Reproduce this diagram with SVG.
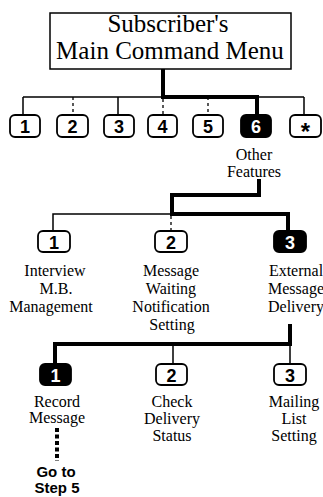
<svg xmlns="http://www.w3.org/2000/svg" width="323" height="497" viewBox="0 0 323 497">
<style>
.bg{fill:#fff}
.box{fill:#fff;stroke:#000;stroke-width:1.5}
.key{fill:#fff;stroke:#000;stroke-width:1.8}
.keyb{fill:#000;stroke:#000;stroke-width:1.8}
.num{font-family:"Liberation Sans",Arial,sans-serif;font-weight:bold;font-size:18px;text-anchor:middle;fill:#000}
.numw{font-family:"Liberation Sans",Arial,sans-serif;font-weight:bold;font-size:18px;text-anchor:middle;fill:#fff}
.title{font-family:"Liberation Serif","Times New Roman",serif;font-size:25px;text-anchor:middle;fill:#000}
.lbl{font-family:"Liberation Serif","Times New Roman",serif;font-size:16px;text-anchor:middle;fill:#000}
.go{font-family:"Liberation Sans",Arial,sans-serif;font-weight:bold;font-size:15px;text-anchor:middle;fill:#000}
.thin{stroke:#000;stroke-width:1.5;fill:none}
.dash{stroke:#000;stroke-width:1.3;fill:none;stroke-dasharray:3 3}
.thick{stroke:#000;stroke-width:4;fill:none;stroke-linejoin:miter;stroke-linecap:square}
.dots{stroke:#000;stroke-width:4;fill:none;stroke-dasharray:4 2.5}
</style>
<rect class="bg" x="0" y="0" width="323" height="497"/>
<g id="connectors">
  <path class="thin" d="M23 97 H163 M257 97 H304 M23 97 V115 M118 97 V115 M304 97 V115"/>
  <path class="dash" d="M73 97 V115 M163 99 V115 M208 97 V115"/>
  <path class="thick" d="M163 70 V97 H257 V114"/>
  <path class="thick" d="M259 181 V195 H172 V214 H288 V230"/>
  <path class="thin" d="M172 214 H53 V231"/>
  <path class="dash" d="M171 216 V231"/>
  <path class="thick" d="M290 326 V344 H55 V363"/>
  <path class="thin" d="M173 344 V364 M290 344 V364"/>
  <path class="dots" d="M57 428 V461"/>
</g>
<g id="main-menu">
  <rect class="box" x="50" y="13" width="241" height="56"/>
  <text class="title" x="168" y="32">Subscriber's</text>
  <text class="title" x="170" y="59">Main Command Menu</text>
</g>
<g id="key1">
  <rect class="key" x="10" y="115" width="30" height="22" rx="5"/>
  <text class="num" x="25" y="133">1</text>
</g>
<g id="key2">
  <rect class="key" x="57" y="115" width="31" height="22" rx="5"/>
  <text class="num" x="72.5" y="133">2</text>
</g>
<g id="key3">
  <rect class="key" x="104" y="115" width="30" height="22" rx="5"/>
  <text class="num" x="119" y="133">3</text>
</g>
<g id="key4">
  <rect class="key" x="148" y="115" width="29" height="22" rx="5"/>
  <text class="num" x="162.5" y="133">4</text>
</g>
<g id="key5">
  <rect class="key" x="193" y="115" width="30" height="22" rx="5"/>
  <text class="num" x="208" y="133">5</text>
</g>
<g id="key6">
  <rect class="keyb" x="241" y="115" width="30" height="22" rx="5"/>
  <text class="numw" x="256" y="133">6</text>
  <text class="lbl" x="254" y="160">Other</text>
  <text class="lbl" x="254" y="177">Features</text>
</g>
<g id="keystar">
  <rect class="key" x="290" y="115" width="31" height="22" rx="5"/>
  <text class="num" x="305.5" y="140" style="font-size:24px">*</text>
</g>
<g id="l2-key1">
  <rect class="key" x="38" y="231" width="32" height="21" rx="5"/>
  <text class="num" x="54" y="249">1</text>
  <text class="lbl" x="55" y="276">Interview</text>
  <text class="lbl" x="56" y="294">M.B.</text>
  <text class="lbl" x="51" y="312">Management</text>
</g>
<g id="l2-key2">
  <rect class="key" x="155" y="231" width="32" height="21" rx="5"/>
  <text class="num" x="171" y="249">2</text>
  <text class="lbl" x="171" y="276">Message</text>
  <text class="lbl" x="171" y="294">Waiting</text>
  <text class="lbl" x="171" y="312">Notification</text>
  <text class="lbl" x="172" y="330">Setting</text>
</g>
<g id="l2-key3">
  <rect class="keyb" x="274" y="231" width="32" height="21" rx="5"/>
  <text class="numw" x="290" y="249">3</text>
  <text class="lbl" x="296" y="276">External</text>
  <text class="lbl" x="296" y="294">Message</text>
  <text class="lbl" x="296" y="312">Delivery</text>
</g>
<g id="l3-key1">
  <rect class="keyb" x="40" y="364" width="31" height="21" rx="5"/>
  <text class="numw" x="55.5" y="382">1</text>
  <text class="lbl" x="57" y="407">Record</text>
  <text class="lbl" x="57" y="423">Message</text>
  <text class="go" x="56" y="477">Go to</text>
  <text class="go" x="57" y="493">Step 5</text>
</g>
<g id="l3-key2">
  <rect class="key" x="156" y="364" width="31" height="21" rx="5"/>
  <text class="num" x="171.5" y="382">2</text>
  <text class="lbl" x="172" y="407">Check</text>
  <text class="lbl" x="172" y="424">Delivery</text>
  <text class="lbl" x="172" y="441">Status</text>
</g>
<g id="l3-key3">
  <rect class="key" x="274" y="364" width="32" height="21" rx="5"/>
  <text class="num" x="290" y="382">3</text>
  <text class="lbl" x="294" y="407">Mailing</text>
  <text class="lbl" x="294" y="424">List</text>
  <text class="lbl" x="294" y="441">Setting</text>
</g>
</svg>
